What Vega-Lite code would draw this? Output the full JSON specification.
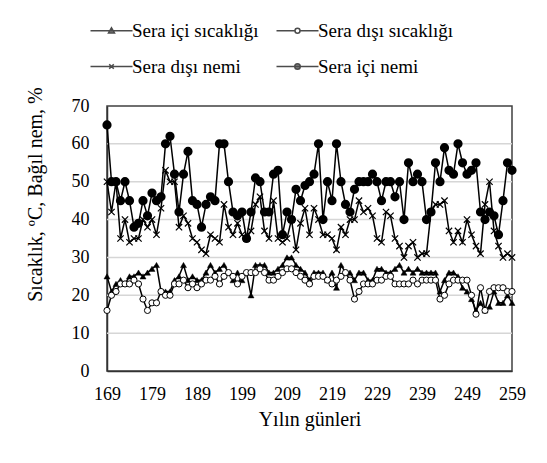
{
  "$schema": "https://vega.github.io/schema/vega-lite/v6.json",
  "autosize": {"type": "none"},
  "padding": {"left": 107, "top": 106, "right": 35, "bottom": 92},
  "width": 405,
  "height": 265,
  "background": "white",
  "config": {
    "view": {"stroke": "#404040", "strokeWidth": 1.5},
    "axis": {
      "labelFont": "Liberation Serif", "labelFontSize": 18, "labelColor": "black",
      "titleFont": "Liberation Serif", "titleFontSize": 20, "titleFontWeight": "normal", "titleColor": "black"
    },
    "legend": {"labelFont": "Liberation Serif", "labelFontSize": 19, "labelColor": "black"}
  },
  "data": {"values": [
    {"d":169,"ti":25,"to":16,"ho":50,"hi":65},
    {"d":170,"ti":21,"to":20,"ho":42,"hi":50},
    {"d":171,"ti":23,"to":21,"ho":50,"hi":50},
    {"d":172,"ti":24,"to":23,"ho":35,"hi":45},
    {"d":173,"ti":23,"to":23,"ho":40,"hi":50},
    {"d":174,"ti":25,"to":23,"ho":34,"hi":45},
    {"d":175,"ti":25,"to":24,"ho":35,"hi":38},
    {"d":176,"ti":26,"to":23,"ho":35,"hi":39},
    {"d":177,"ti":25,"to":19,"ho":40,"hi":45},
    {"d":178,"ti":26,"to":16,"ho":38,"hi":41},
    {"d":179,"ti":27,"to":18,"ho":40,"hi":47},
    {"d":180,"ti":28,"to":18,"ho":36,"hi":45},
    {"d":181,"ti":21,"to":21,"ho":43,"hi":46},
    {"d":182,"ti":21,"to":20,"ho":53,"hi":60},
    {"d":183,"ti":21,"to":20,"ho":50,"hi":62},
    {"d":184,"ti":24,"to":23,"ho":50,"hi":52},
    {"d":185,"ti":25,"to":23,"ho":38,"hi":42},
    {"d":186,"ti":28,"to":24,"ho":41,"hi":52},
    {"d":187,"ti":24,"to":22,"ho":39,"hi":58},
    {"d":188,"ti":25,"to":23,"ho":35,"hi":45},
    {"d":189,"ti":24,"to":22,"ho":34,"hi":44},
    {"d":190,"ti":24,"to":23,"ho":32,"hi":38},
    {"d":191,"ti":26,"to":24,"ho":31,"hi":44},
    {"d":192,"ti":28,"to":24,"ho":36,"hi":46},
    {"d":193,"ti":26,"to":25,"ho":35,"hi":45},
    {"d":194,"ti":27,"to":23,"ho":34,"hi":60},
    {"d":195,"ti":28,"to":25,"ho":44,"hi":60},
    {"d":196,"ti":26,"to":26,"ho":38,"hi":50},
    {"d":197,"ti":24,"to":25,"ho":36,"hi":42},
    {"d":198,"ti":26,"to":23,"ho":39,"hi":41},
    {"d":199,"ti":24,"to":25,"ho":36,"hi":42},
    {"d":200,"ti":26,"to":26,"ho":35,"hi":35},
    {"d":201,"ti":20,"to":26,"ho":37,"hi":42},
    {"d":202,"ti":28,"to":26,"ho":44,"hi":51},
    {"d":203,"ti":28,"to":27,"ho":46,"hi":50},
    {"d":204,"ti":28,"to":26,"ho":37,"hi":42},
    {"d":205,"ti":26,"to":24,"ho":35,"hi":42},
    {"d":206,"ti":26,"to":24,"ho":45,"hi":52},
    {"d":207,"ti":27,"to":25,"ho":35,"hi":53},
    {"d":208,"ti":28,"to":26,"ho":34,"hi":36},
    {"d":209,"ti":30,"to":27,"ho":35,"hi":42},
    {"d":210,"ti":30,"to":27,"ho":40,"hi":40},
    {"d":211,"ti":28,"to":26,"ho":32,"hi":48},
    {"d":212,"ti":27,"to":25,"ho":39,"hi":45},
    {"d":213,"ti":26,"to":24,"ho":43,"hi":49},
    {"d":214,"ti":24,"to":23,"ho":36,"hi":50},
    {"d":215,"ti":26,"to":25,"ho":43,"hi":52},
    {"d":216,"ti":26,"to":25,"ho":40,"hi":60},
    {"d":217,"ti":26,"to":25,"ho":36,"hi":40},
    {"d":218,"ti":24,"to":24,"ho":36,"hi":50},
    {"d":219,"ti":26,"to":23,"ho":35,"hi":45},
    {"d":220,"ti":22,"to":24,"ho":32,"hi":60},
    {"d":221,"ti":28,"to":25,"ho":38,"hi":50},
    {"d":222,"ti":26,"to":26,"ho":36,"hi":44},
    {"d":223,"ti":26,"to":24,"ho":40,"hi":42},
    {"d":224,"ti":24,"to":19,"ho":40,"hi":48},
    {"d":225,"ti":26,"to":21,"ho":45,"hi":50},
    {"d":226,"ti":26,"to":23,"ho":42,"hi":50},
    {"d":227,"ti":24,"to":23,"ho":43,"hi":50},
    {"d":228,"ti":24,"to":23,"ho":41,"hi":52},
    {"d":229,"ti":27,"to":24,"ho":35,"hi":50},
    {"d":230,"ti":27,"to":24,"ho":34,"hi":45},
    {"d":231,"ti":26,"to":25,"ho":42,"hi":50},
    {"d":232,"ti":26,"to":25,"ho":41,"hi":50},
    {"d":233,"ti":27,"to":23,"ho":35,"hi":46},
    {"d":234,"ti":28,"to":23,"ho":33,"hi":50},
    {"d":235,"ti":26,"to":23,"ho":30,"hi":40},
    {"d":236,"ti":27,"to":23,"ho":33,"hi":55},
    {"d":237,"ti":26,"to":24,"ho":34,"hi":50},
    {"d":238,"ti":27,"to":23,"ho":30,"hi":52},
    {"d":239,"ti":26,"to":24,"ho":31,"hi":50},
    {"d":240,"ti":26,"to":24,"ho":31,"hi":40},
    {"d":241,"ti":26,"to":24,"ho":42,"hi":42},
    {"d":242,"ti":26,"to":24,"ho":44,"hi":55},
    {"d":243,"ti":21,"to":19,"ho":44,"hi":50},
    {"d":244,"ti":24,"to":20,"ho":45,"hi":59},
    {"d":245,"ti":26,"to":23,"ho":37,"hi":53},
    {"d":246,"ti":26,"to":24,"ho":34,"hi":52},
    {"d":247,"ti":25,"to":24,"ho":37,"hi":60},
    {"d":248,"ti":22,"to":24,"ho":34,"hi":55},
    {"d":249,"ti":21,"to":24,"ho":40,"hi":52},
    {"d":250,"ti":19,"to":20,"ho":36,"hi":53},
    {"d":251,"ti":16,"to":15,"ho":33,"hi":55},
    {"d":252,"ti":18,"to":22,"ho":31,"hi":42},
    {"d":253,"ti":16,"to":16,"ho":44,"hi":40},
    {"d":254,"ti":17,"to":21,"ho":50,"hi":42},
    {"d":255,"ti":21,"to":22,"ho":37,"hi":41},
    {"d":256,"ti":18,"to":22,"ho":33,"hi":36},
    {"d":257,"ti":18,"to":22,"ho":30,"hi":45},
    {"d":258,"ti":20,"to":21,"ho":31,"hi":55},
    {"d":259,"ti":18,"to":21,"ho":30,"hi":53}
  ]},
  "encoding": {
    "y": {
      "field": "v", "type": "quantitative",
      "scale": {"domain": [0, 70], "nice": false},
      "axis": {"values": [0,10,20,30,40,50,60,70], "grid": false, "ticks": false,
        "labelOverlap": false, "domainColor": "#333333", "domainWidth": 1.5, "labelPadding": 18,
        "title": "Sıcaklık, ºC, Bağıl nem, %", "titleX": -72, "titleY": 88, "titleAlign": "center", "titleBaseline": "middle", "titleAngle": -90}
    }
  },
  "layer": [
    {
      "data": {"values": [{"v": 10}, {"v": 20}, {"v": 30}, {"v": 40}, {"v": 50}, {"v": 60}]},
      "mark": {"type": "rule", "color": "#d6d6d6", "strokeWidth": 1.5},
      "encoding": {}
    },
    {
      "transform": [{"fold": ["ti", "to", "ho", "hi"], "as": ["k", "v"]}],
      "encoding": {
        "x": {
          "field": "d", "type": "quantitative",
          "scale": {"domain": [169, 259], "nice": false, "zero": false},
          "axis": {"values": [169,179,189,199,209,219,229,239,249,259], "grid": false, "ticks": false, "labelFlush": false, "labelOverlap": false,
            "domainColor": "#333333", "domainWidth": 1.5, "labelPadding": 14,
            "title": "Yılın günleri", "titleY": 54, "titleBaseline": "alphabetic"}
        }
      },
      "layer": [
        {
          "transform": [{"filter": "datum.k == 'ti'"}],
          "mark": {"type": "line", "color": "black", "strokeWidth": 1.5,
            "point": {"shape": "triangle-up", "filled": true, "fill": "black", "stroke": "black", "strokeWidth": 0.5, "size": 36}}
        },
        {
          "transform": [{"filter": "datum.k == 'to'"}],
          "mark": {"type": "line", "color": "black", "strokeWidth": 1.5,
            "point": {"shape": "circle", "filled": true, "fill": "white", "stroke": "black", "strokeWidth": 1, "size": 38}}
        },
        {
          "transform": [{"filter": "datum.k == 'ho'"}],
          "mark": {"type": "line", "color": "black", "strokeWidth": 1.5,
            "point": {"shape": "M-1,-1L1,1M-1,1L1,-1", "filled": false, "stroke": "black", "strokeWidth": 1.2, "size": 40}}
        },
        {
          "transform": [{"filter": "datum.k == 'hi'"}],
          "mark": {"type": "line", "color": "black", "strokeWidth": 1.5,
            "point": {"shape": "circle", "filled": true, "fill": "black", "stroke": "black", "size": 52}}
        },
        {
          "transform": [{"filter": "false"}],
          "mark": {"type": "point", "filled": true, "stroke": "black", "strokeWidth": 1.2},
          "encoding": {
            "shape": {"field": "k", "type": "nominal",
              "scale": {"domain": ["Sera içi sıcaklığı", "Sera dışı sıcaklığı", "Sera dışı nemi", "Sera içi nemi"],
                "range": [
                  "M-4.2,0H4.2M0,-0.6L0.6,0.45H-0.6Z",
                  "M-4.2,0H-0.5M0.5,0H4.2M-0.5,0A0.5,0.5,0,1,1,0.5,0A0.5,0.5,0,1,1,-0.5,0Z",
                  "M-4.2,0H4.2M-0.45,-0.45L0.45,0.45M-0.45,0.45L0.45,-0.45",
                  "M-4.2,0H4.2M-0.55,0A0.55,0.55,0,1,1,0.55,0A0.55,0.55,0,1,1,-0.55,0Z"
                ]},
              "legend": {"title": null, "orient": "none", "legendX": -5, "legendY": -85, "direction": "horizontal", "columns": 2, "columnPadding": 14, "rowPadding": 16,
                "symbolSize": 100, "labelOffset": 11, "labelLimit": 300, "padding": 0,
                "encode": {"symbols": {"update": {"stroke": {"value": "black"}, "strokeWidth": {"value": 1.2}, "opacity": {"value": 1}}}}}},
            "fill": {"field": "k", "type": "nominal",
              "scale": {"domain": ["Sera içi sıcaklığı", "Sera dışı sıcaklığı", "Sera dışı nemi", "Sera içi nemi"],
                "range": ["black", "white", "black", "black"]},
              "legend": {"title": null, "orient": "none", "legendX": -5, "legendY": -85, "direction": "horizontal", "columns": 2, "columnPadding": 14, "rowPadding": 16,
                "symbolSize": 100, "labelOffset": 11, "labelLimit": 300, "padding": 0,
                "encode": {"symbols": {"update": {"stroke": {"value": "black"}, "strokeWidth": {"value": 1.2}, "opacity": {"value": 1}}}}}}
          }
        }
      ]
    }
  ]
}
